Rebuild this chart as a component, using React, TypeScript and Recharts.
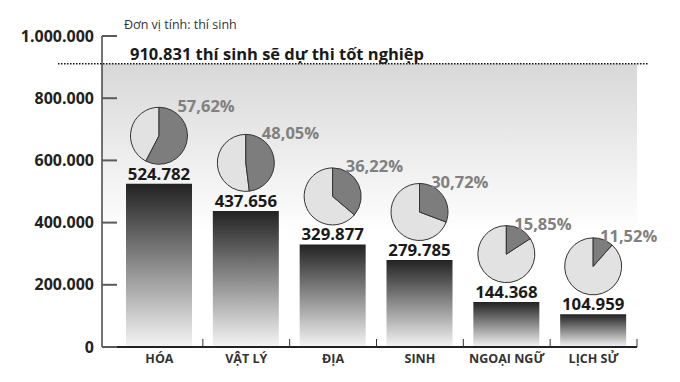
import React from 'react';
import { BarChart, Bar, XAxis, YAxis, ReferenceLine, ReferenceArea, LabelList, Sector } from 'recharts';

const categories = ['HÓA', 'VẬT LÝ', 'ĐỊA', 'SINH', 'NGOẠI NGỮ', 'LỊCH SỬ'];
const candidates = [524782, 437656, 329877, 279785, 144368, 104959];
const shares = [57.62, 48.05, 36.22, 30.72, 15.85, 11.52];
const totalCandidates = 910831;
const yTicks = [0, 200000, 400000, 600000, 800000, 1000000];
const unitText = 'Đơn vị tính: thí sinh';
const totalText = '910.831 thí sinh sẽ dự thi tốt nghiệp';

const data = categories.map((name, i) => ({ name, value: candidates[i], share: shares[i] }));

const FONT = '"Open Sans", "Noto Sans", sans-serif';
const X_PAD = 14;

const fmtThousands = (v: number) => String(v).replace(/\B(?=(\d{3})+(?!\d))/g, '.');
const fmtPct = (v: number) => v.toFixed(2).replace('.', ',') + '%';

const YTick = (props: any) => {
  const { x, y, payload } = props;
  return (
    <g>
      <path d={`M${x},${y}H${x + 15}`} stroke="#5a5a5a" strokeWidth={2} fill="none" />
      <text x={x - 8} y={y} dy={5.5} textAnchor="end" fontFamily={FONT} fontWeight={700} fontSize={16} fill="#222">
        {fmtThousands(payload.value)}
      </text>
    </g>
  );
};

const XTick = (props: any) => {
  const { x, y, payload } = props;
  const off = payload && typeof payload.offset === 'number' ? payload.offset : 43.5;
  return (
    <g>
      <path d={`M${x + off},${y}V${y - 8}`} stroke="#333" strokeWidth={1} fill="none" />
      <text x={x} y={y + 16} textAnchor="middle" fontFamily={FONT} fontWeight={700} fontSize={12.5} fill="#333">
        {payload.value}
      </text>
    </g>
  );
};

const ValueLabel = (props: any) => {
  const { x, y, width, value } = props;
  return (
    <text x={x + width / 2} y={y - 4} textAnchor="middle" fontFamily={FONT} fontWeight={700} fontSize={16.8} fill="#1a1a1a">
      {fmtThousands(value)}
    </text>
  );
};

const PieLabel = (props: any) => {
  const { x, y, width, value } = props;
  const cx = x + width / 2;
  const cy = y - 48;
  const r = 28.5;
  const end = 90 - (360 * value) / 100;
  return (
    <g>
      <Sector cx={cx} cy={cy} innerRadius={0} outerRadius={r} startAngle={end} endAngle={-270} fill="#e2e2e2" stroke="#333" strokeWidth={1} />
      <Sector cx={cx} cy={cy} innerRadius={0} outerRadius={r} startAngle={90} endAngle={end} fill="#7d7d7d" stroke="#333" strokeWidth={1} />
      <text x={cx + 4 + value * 0.25} y={cy - 24} fontFamily={FONT} fontWeight={700} fontSize={16.5} fill="#808080">
        {fmtPct(value)}
      </text>
    </g>
  );
};

const TotalLine = (props: any) => {
  const { x1, y1, x2, y2 } = props;
  return (
    <g>
      <path d={`M${x1 - 44},${y1}L${x2 + 11},${y2}`} stroke="#111" strokeWidth={1.5} strokeDasharray="1.5 1.5" fill="none" />
      <text x={x1 + 28} y={y1 - 4} fontFamily={FONT} fontWeight={700} fontSize={16.5} fill="#1a1a1a">
        {totalText}
      </text>
    </g>
  );
};

const BgArea = (props: any) => {
  const { x, y, width, height } = props;
  return <rect x={x - X_PAD} y={y} width={width + X_PAD} height={height} fill="url(#bgGrad)" />;
};

export default function App() {
  return (
    <div style={{ position: 'absolute', left: 0, top: 0, width: 680, height: 382, background: '#fff' }}>
      <div
        style={{
          position: 'absolute',
          left: 124,
          top: 18,
          fontFamily: FONT,
          fontSize: 12.5,
          color: '#333',
          lineHeight: '14px',
          whiteSpace: 'nowrap',
        }}
      >
        {unitText}
      </div>
      <BarChart width={680} height={382} data={data} margin={{ top: 36, right: 43, bottom: 0, left: 0 }} barCategoryGap={0} barSize={66}>
        <defs>
          <linearGradient id="barGrad" x1="0" y1="0" x2="0" y2="1">
            <stop offset="0%" stopColor="#222222" />
            <stop offset="100%" stopColor="#f5f5f5" />
          </linearGradient>
          <linearGradient id="bgGrad" x1="0" y1="0" x2="0" y2="1">
            <stop offset="0%" stopColor="#d8d8d8" />
            <stop offset="60%" stopColor="#ffffff" />
            <stop offset="100%" stopColor="#ffffff" />
          </linearGradient>
        </defs>
        <ReferenceArea y1={0} y2={totalCandidates} shape={<BgArea />} ifOverflow="extendDomain" />
        <XAxis
          dataKey="name"
          padding={{ left: X_PAD, right: 0 }}
          height={35}
          tickSize={0}
          tickMargin={0}
          tickLine={false}
          axisLine={{ stroke: '#222', strokeWidth: 2 }}
          tick={<XTick />}
          interval={0}
        />
        <YAxis
          type="number"
          domain={[0, 1000000]}
          ticks={yTicks}
          width={102}
          tickSize={0}
          tickMargin={0}
          tickLine={false}
          axisLine={{ stroke: '#444', strokeWidth: 1.5 }}
          tick={<YTick />}
          interval={0}
        />
        <ReferenceLine y={totalCandidates} shape={<TotalLine />} ifOverflow="extendDomain" />
        <Bar dataKey="value" fill="url(#barGrad)" isAnimationActive={false}>
          <LabelList dataKey="value" content={<ValueLabel />} />
          <LabelList dataKey="share" content={<PieLabel />} />
        </Bar>
      </BarChart>
    </div>
  );
}
